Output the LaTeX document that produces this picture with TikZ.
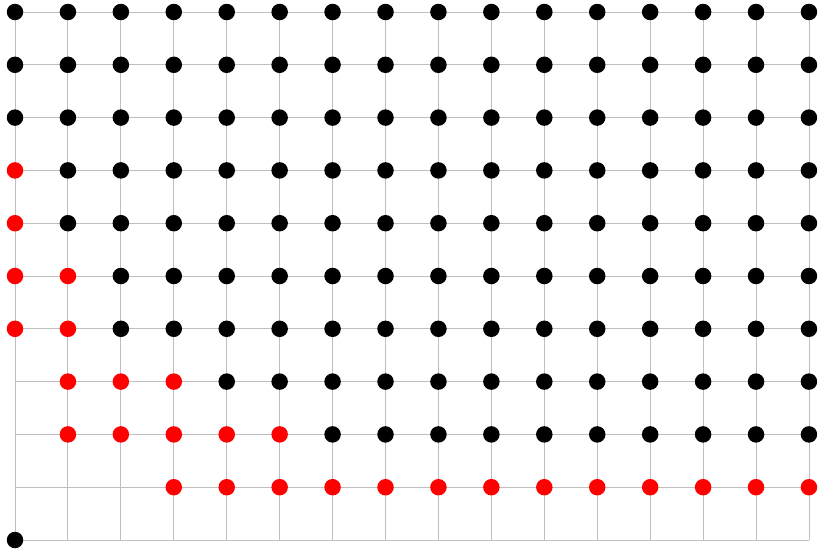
\documentclass[tikz,border=0pt]{standalone}
\begin{document}
\begin{tikzpicture}[x=1pt,y=-1pt,
  gridline/.style={draw=black!25,line width=0.9pt},
  bdot/.style={circle,fill=black,inner sep=0pt,minimum size=16.5pt},
  rdot/.style={circle,fill=red,inner sep=0pt,minimum size=16.5pt}]
\useasboundingbox (0,0) rectangle (818,549);
\def\sx{52.93}\def\sy{52.8}
% grid
\foreach \i in {0,...,15}{
  \draw[gridline] (15+\i*\sx,12) -- (15+\i*\sx,540);
}
\foreach \j in {0,...,10}{
  \draw[gridline] (15,540-\j*\sy) -- (809,540-\j*\sy);
}
% black dots: per row j, list of starting column
\node[bdot] (p-0-0) at (15,540) {};
% row 1: red 3..15
\foreach \i in {3,...,15}{\node[rdot] (p-\i-1) at (15+\i*\sx,540-1*\sy) {};}
% row 2: red 1..5, black 6..15
\foreach \i in {1,...,5}{\node[rdot] (p-\i-2) at (15+\i*\sx,540-2*\sy) {};}
\foreach \i in {6,...,15}{\node[bdot] (p-\i-2) at (15+\i*\sx,540-2*\sy) {};}
% row 3: red 1..3, black 4..15
\foreach \i in {1,...,3}{\node[rdot] (p-\i-3) at (15+\i*\sx,540-3*\sy) {};}
\foreach \i in {4,...,15}{\node[bdot] (p-\i-3) at (15+\i*\sx,540-3*\sy) {};}
% rows 4,5: red 0..1
\foreach \j in {4,5}{
  \foreach \i in {0,1}{\node[rdot] (p-\i-\j) at (15+\i*\sx,540-\j*\sy) {};}
  \foreach \i in {2,...,15}{\node[bdot] (p-\i-\j) at (15+\i*\sx,540-\j*\sy) {};}
}
% rows 6,7: red 0
\foreach \j in {6,7}{
  \node[rdot] (p-0-\j) at (15,540-\j*\sy) {};
  \foreach \i in {1,...,15}{\node[bdot] (p-\i-\j) at (15+\i*\sx,540-\j*\sy) {};}
}
% rows 8..10 all black
\foreach \j in {8,9,10}{
  \foreach \i in {0,...,15}{\node[bdot] (p-\i-\j) at (15+\i*\sx,540-\j*\sy) {};}
}
\end{tikzpicture}
\end{document}
